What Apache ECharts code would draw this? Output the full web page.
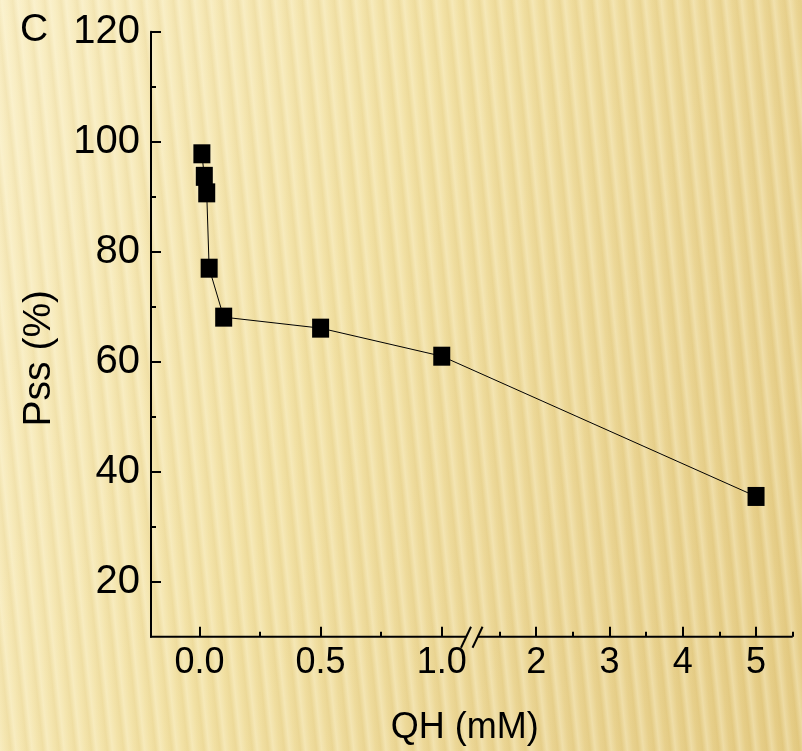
<!DOCTYPE html>
<html>
<head>
<meta charset="utf-8">
<script src="https://cdn.jsdelivr.net/npm/echarts@6/dist/echarts.min.js"></script>
<style>
html, body { margin: 0; padding: 0; }
#chart {
  width: 802px; height: 751px;
  background:
    repeating-linear-gradient(84deg,
      rgba(255,251,230,0.30) 0px,
      rgba(255,251,230,0) 6px,
      rgba(185,145,45,0.08) 11px,
      rgba(255,251,230,0.30) 16px),
    linear-gradient(110deg, #f9eec4 0%, #f2e1a4 42%, #eAd492 75%, #e5cc85 100%);
}
</style>
</head>
<body>
<div id="chart"></div>
<script>
// ---- data ----
const xValues = [0.01, 0.02, 0.03, 0.04, 0.1, 0.5, 1.0, 5];
const yValues = [97.8, 93.7, 90.7, 77, 68.1, 66.1, 61, 35.5];

// ---- tick labels ----
const xMajorTicks = [0, 0.5, 1.0, 2, 3, 4, 5];
const xMajorLabels = ['0.0', '0.5', '1.0', '2', '3', '4', '5'];
const xMinorTicks = [0.25, 0.75, 1.5, 2.5, 3.5, 4.5, 5.5];
const yMajorTicks = [20, 40, 60, 80, 100, 120];
const yMinorTicks = [30, 50, 70, 90, 110];

const xMin = -0.2, xMax = 5.5;
const yMin = 10, yMax = 120;
// broken x axis: left segment [-0.2, 1.1], right segment [1.2, 5.5] at a compressed scale
const xBreak = { leftMax: 1.1, rightMin: 1.2, gap: 0.0476, rightScale: 0.3025 };
function u(x) {
  return x <= xBreak.leftMax ? x : xBreak.leftMax + xBreak.gap + (x - xBreak.rightMin) * xBreak.rightScale;
}

const FONT = "'Liberation Sans', Arial, sans-serif";
const chart = echarts.init(document.getElementById('chart'), null, { renderer: 'canvas' });

const option = {
  backgroundColor: 'transparent',
  animation: false,
  textStyle: { fontFamily: FONT, color: '#000' },
  grid: { left: 151, top: 31.7, right: 9.3, bottom: 114.3, containLabel: false },
  xAxis: [{
    type: 'value', position: 'bottom', min: u(xMin), max: u(xMax),
    name: 'QH (mM)', nameLocation: 'middle', nameGap: 73,
    nameTextStyle: { fontSize: 36, color: '#000', fontFamily: FONT, padding: [0, 14, 0, 0] },
    axisLine: { show: false, onZero: false },
    axisTick: { show: true, inside: true, length: 10, customValues: xMajorTicks.map(u), lineStyle: { color: '#000', width: 2 } },
    axisLabel: {
      show: true, customValues: xMajorTicks.map(u), fontSize: 36, color: '#000', margin: 8, fontFamily: FONT,
      formatter: function (v) {
        for (let i = 0; i < xMajorTicks.length; i++) {
          if (Math.abs(u(xMajorTicks[i]) - v) < 1e-6) return xMajorLabels[i];
        }
        return '';
      }
    },
    splitLine: { show: false }
  }, {
    type: 'value', position: 'bottom', min: u(xMin), max: u(xMax),
    axisLine: { show: false, onZero: false },
    axisTick: { show: true, inside: true, length: 5, customValues: xMinorTicks.map(u), lineStyle: { color: '#000', width: 2 } },
    axisLabel: { show: false },
    splitLine: { show: false }
  }],
  yAxis: [{
    type: 'value', position: 'left', min: yMin, max: yMax,
    name: 'Pss (%)', nameLocation: 'middle', nameRotate: 90, nameGap: 92,
    nameTextStyle: { fontSize: 39, color: '#000', fontFamily: FONT, padding: [0, 48, 0, 0] },
    axisLine: { show: true, onZero: false, lineStyle: { color: '#000', width: 2 } },
    axisTick: { show: true, inside: true, length: 10, customValues: yMajorTicks, lineStyle: { color: '#000', width: 2 } },
    axisLabel: { show: true, customValues: yMajorTicks, fontSize: 40, color: '#000', margin: 11, fontFamily: FONT },
    splitLine: { show: false }
  }, {
    type: 'value', position: 'left', min: yMin, max: yMax,
    axisLine: { show: false, onZero: false },
    axisTick: { show: true, inside: true, length: 5, customValues: yMinorTicks, lineStyle: { color: '#000', width: 2 } },
    axisLabel: { show: false },
    splitLine: { show: false }
  }],
  series: [{
    type: 'line',
    xAxisIndex: 0, yAxisIndex: 0,
    data: xValues.map((x, i) => [u(x), yValues[i]]),
    symbol: 'rect', symbolSize: [17, 19],
    itemStyle: { color: '#000' },
    lineStyle: { color: '#000', width: 1 },
    z: 3
  }]
};
chart.setOption(option);

// axis line with break marks, positioned through the axis scale
function px(xv, yv) { return chart.convertToPixel({ xAxisIndex: 0, yAxisIndex: 0 }, [u(xv), yv]); }
const a0 = px(xMin, yMin), a1 = px(xBreak.leftMax, yMin);
const b0 = px(xBreak.rightMin, yMin), b1 = px(xMax, yMin);
const stroke = { stroke: '#000', lineWidth: 2 };
chart.setOption({
  graphic: [
    { type: 'line', shape: { x1: a0[0] - 1, y1: a0[1], x2: a1[0], y2: a1[1] }, style: stroke, z: 10 },
    { type: 'line', shape: { x1: b0[0], y1: b0[1], x2: b1[0], y2: b1[1] }, style: stroke, z: 10 },
    { type: 'line', shape: { x1: a1[0] - 5, y1: a1[1] + 11, x2: a1[0] + 5, y2: a1[1] - 10 }, style: stroke, z: 10 },
    { type: 'line', shape: { x1: b0[0] - 5, y1: b0[1] + 11, x2: b0[0] + 5, y2: b0[1] - 10 }, style: stroke, z: 10 },
    { type: 'text', left: 20, top: 11, style: { text: 'C', font: '39px ' + FONT, fill: '#000' }, z: 10 }
  ]
});
</script>
</body>
</html>
